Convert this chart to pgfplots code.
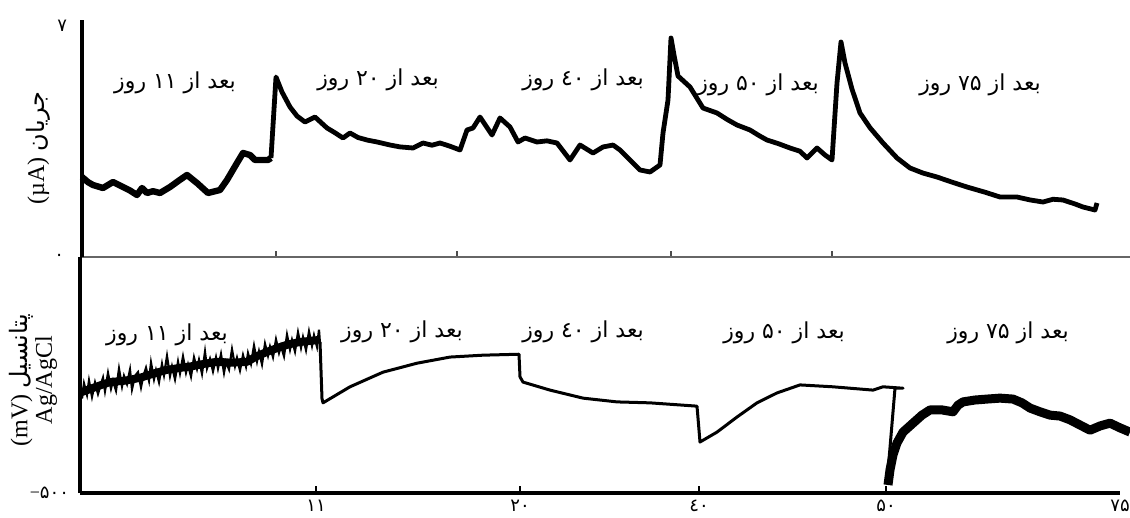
\documentclass[border=0pt]{standalone}
\usepackage{fontspec}
\usepackage{pgfplots}
\pgfplotsset{compat=1.18}
\setmainfont{Liberation Serif}
\newfontfamily\arabicfont[Script=Arabic]{DejaVu Sans}
\TeXXeTstate=1

\tikzset{
  lab/.style={font=\arabicfont\fontsize{11}{12}\selectfont, inner sep=0pt},
}

\begin{document}
\begin{tikzpicture}
\useasboundingbox (0pt,0pt) rectangle (565pt,-259pt);

% ---------------- upper panel: current ----------------
\begin{axis}[
  at={(41pt,-128.5pt)}, anchor=south west,
  scale only axis, width=524pt, height=118.5pt,
  xmin=82, xmax=1130, ymin=0, ymax=7.06,
  axis x line*=bottom, axis y line*=left,
  x axis line style={-, line width=1.1pt, draw=black!60},
  y axis line style={-, line width=2.2pt},
  xtick={276,457,671,832}, xticklabels={},
  ytick={7}, yticklabels={۷},
  tick align=inside,
  major tick length=3pt,
  x tick style={line width=0.8pt, black!70},
  y tick style={draw=none},
  ticklabel style={font=\arabicfont\fontsize{9}{10}\selectfont},
  yticklabel style={xshift=-4pt, yshift=-2pt},
  clip=false,
]
% first interval, thicker trace
\addplot[black, line width=3.2pt, line join=round] table {
82 2.383
88 2.230
93 2.145
103 2.055
113 2.234
123 2.085
130 1.980
137 1.847
142 2.055
147 1.906
153 1.960
160 1.906
170 2.085
180 2.300
187 2.443
197 2.204
208 1.906
220 1.996
227 2.294
237 2.800
243 3.098
250 3.038
255 2.890
268 2.890
271 2.949
};
\addplot[black, line width=2.4pt, line join=round] table {
271 2.949
276 5.362
282 4.915
290 4.468
297 4.200
305 4.021
315 4.170
327 3.843
335 3.700
343 3.545
350 3.694
358 3.560
367 3.485
378 3.420
390 3.336
400 3.280
413 3.247
423 3.396
432 3.330
440 3.396
450 3.300
460 3.187
467 3.783
473 3.843
480 4.170
492 3.634
500 4.141
510 3.873
518 3.426
525 3.545
537 3.426
547 3.460
557 3.396
570 2.890
580 3.336
593 3.098
603 3.277
613 3.336
620 3.187
630 2.890
640 2.592
650 2.532
660 2.741
663 3.694
668 4.677
671 6.524
674 6.017
678 5.392
690 5.064
703 4.438
717 4.290
727 4.100
737 3.932
750 3.783
760 3.600
767 3.485
778 3.380
790 3.247
800 3.150
807 2.949
817 3.247
825 3.038
832 2.890
837 5.183
841 6.405
845 5.779
852 5.000
860 4.290
870 3.850
883 3.396
897 2.950
910 2.651
923 2.500
937 2.383
952 2.230
967 2.085
985 1.930
1000 1.787
1017 1.787
1030 1.700
1043 1.638
1053 1.720
1063 1.698
1075 1.580
1083 1.489
1095 1.400
1097 1.609
};
\node[lab] at (axis cs:175,5.18) {\beginR بعد از ۱۱ روز\endR};
\node[lab] at (axis cs:378,5.27) {\beginR بعد از ۲۰ روز\endR};
\node[lab] at (axis cs:583,5.27) {\beginR بعد از ٤۰ روز\endR};
\node[lab] at (axis cs:758,5.12) {\beginR بعد از ۵۰ روز\endR};
\node[lab] at (axis cs:980,5.12) {\beginR بعد از ۷۵ روز\endR};
\end{axis}

% ---------------- lower panel: potential ----------------
\begin{axis}[
  at={(40pt,-246.5pt)}, anchor=south west,
  scale only axis, width=520pt, height=118pt,
  xmin=80, xmax=1120, ymin=-500, ymax=0,
  axis x line*=bottom, axis y line*=left,
  x axis line style={-, line width=2.3pt},
  y axis line style={-, line width=2.2pt},
  xtick={316,520,699,886}, xticklabels={۱۱,۲۰,٤۰,۵۰},
  extra x ticks={1120}, extra x tick labels={۷۵},
  extra x tick style={major tick length=0pt},
  ytick={-500}, yticklabels={{\rmfamily −}۵۰۰},
  extra y ticks={0}, extra y tick labels={۰},
  extra y tick style={yticklabel style={xshift=-2.5pt}},
  tick align=inside,
  major tick length=3.5pt,
  x tick style={line width=0.8pt, black},
  y tick style={draw=none},
  ticklabel style={font=\arabicfont\fontsize{9}{10}\selectfont},
  yticklabel style={xshift=-2pt},
  clip=false,
]
% noisy first interval: central band and spikes
\addplot[black, line width=4pt, line join=round] table {
82 -286
100 -272
110 -265
125 -262
140 -256
155 -246
167 -239
180 -235
193 -231
205 -226
217 -222
232 -224
247 -222
257 -210
267 -201
277 -193
287 -186
300 -180
318 -176
};
\addplot[black, line width=1.1pt, line join=miter] table {
82 -300
84 -268
87 -292
89 -262
92 -296
95 -266
98 -290
100 -276
103 -256
105 -284
108 -246
111 -279
113 -262
116 -283
119 -237
122 -274
124 -252
127 -269
130 -239
132 -280
135 -252
138 -244
141 -276
143 -255
146 -235
149 -262
151 -224
154 -259
156 -240
159 -265
162 -227
164 -250
167 -210
170 -252
172 -232
175 -259
178 -222
180 -246
183 -211
186 -245
188 -228
191 -253
194 -213
197 -237
199 -218
202 -247
205 -201
207 -236
210 -216
213 -242
216 -213
218 -236
221 -206
224 -245
226 -222
229 -238
232 -196
235 -231
237 -214
240 -240
243 -208
246 -232
248 -204
251 -226
254 -188
257 -221
259 -200
262 -227
265 -184
268 -209
270 -190
273 -212
276 -175
279 -203
281 -188
284 -210
287 -165
290 -196
292 -176
295 -200
298 -160
301 -192
303 -170
306 -197
309 -158
312 -188
314 -166
317 -190
319 -154
320 -184
};
% smooth middle intervals
\addplot[black, line width=1.5pt, line join=round] table {
320 -180
322 -300
323 -309
350 -275
383 -244
417 -225
450 -212
483 -208
519 -206
520 -254
523 -265
550 -282
583 -299
617 -307
650 -309
697 -316
700 -392
717 -371
737 -339
757 -309
777 -288
800 -271
833 -275
873 -282
883 -275
903 -278
895 -278
887 -479
};
% last interval, broad trace
\addplot[black, line width=4.5pt, line join=round] table {
888 -483
890 -451
893 -419
897 -394
903 -371
913 -352
922 -335
930 -324
942 -324
953 -328
958 -314
963 -307
975 -303
987 -301
1000 -299
1013 -301
1022 -309
1030 -320
1040 -328
1050 -335
1060 -337
1070 -345
1080 -356
1090 -367
1100 -358
1110 -352
1120 -362
1130 -371
};
\node[lab] at (axis cs:167,-165) {\beginR بعد از ۱۱ روز\endR};
\node[lab] at (axis cs:402,-159) {\beginR بعد از ۲۰ روز\endR};
\node[lab] at (axis cs:583,-159) {\beginR بعد از ٤۰ روز\endR};
\node[lab] at (axis cs:784,-161) {\beginR بعد از ۵۰ روز\endR};
\node[lab] at (axis cs:1008,-161) {\beginR بعد از ۷۵ روز\endR};
\end{axis}

% axis titles
\node[rotate=90, inner sep=0pt, font=\fontsize{12}{14}\selectfont] at (19pt,-74pt)
  {(µA) {\arabicfont\beginR جریان\endR}};
\node[rotate=90, inner sep=0pt, align=center, font=\fontsize{12}{11}\selectfont] at (16.5pt,-190pt)
  {(mV) {\arabicfont\beginR پتانسیل\endR}\\Ag/AgCl};
\end{tikzpicture}
\end{document}
